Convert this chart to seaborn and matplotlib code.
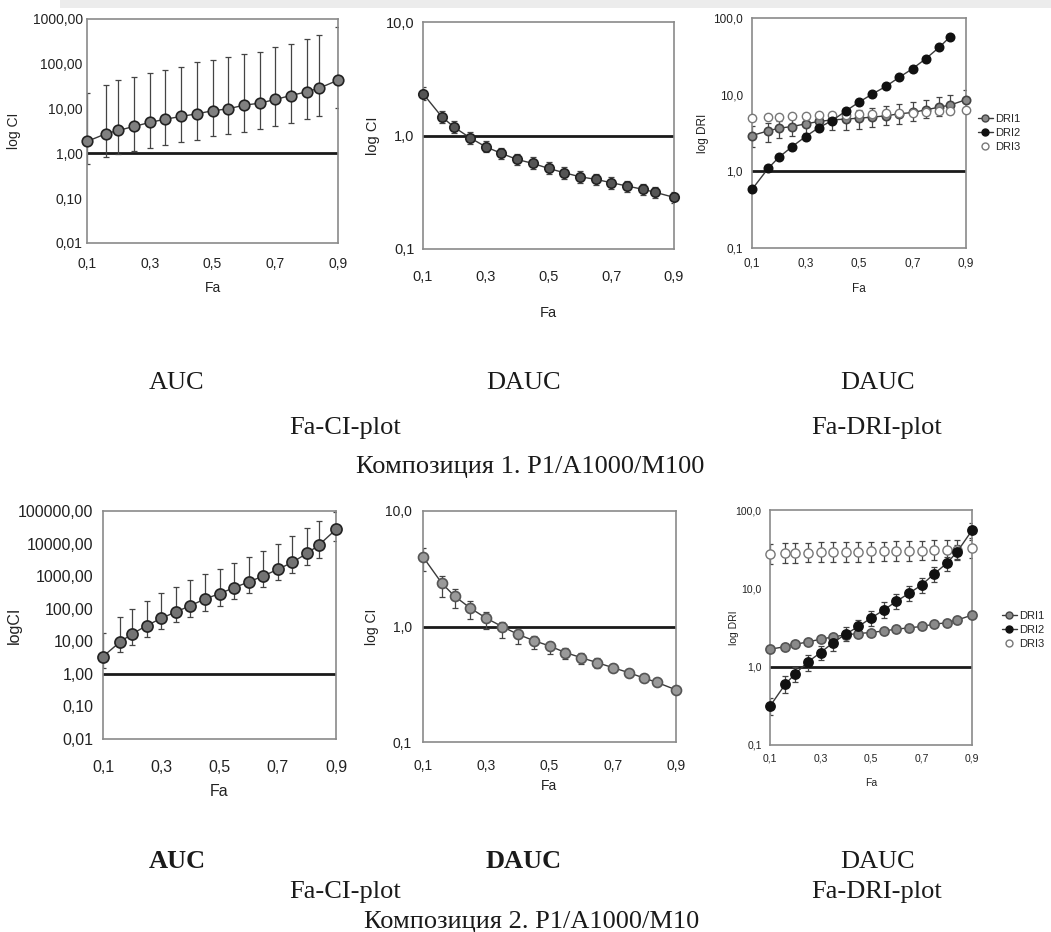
import numpy as np
import pandas as pd
import seaborn as sns
import matplotlib
matplotlib.use("Agg")
import matplotlib.pyplot as plt
from matplotlib.lines import Line2D
from matplotlib.patches import Rectangle

# ---------------- data ----------------
fa = [0.1, 0.16, 0.2, 0.25, 0.3, 0.35, 0.4, 0.45, 0.5, 0.55, 0.6, 0.65, 0.7, 0.75, 0.8, 0.84, 0.9]
x_ticks = [0.1, 0.3, 0.5, 0.7, 0.9]
x_ticklabels = ["0,1", "0,3", "0,5", "0,7", "0,9"]

# Composition 1, AUC, Fa-CI
ci1_auc = [1.85, 2.74, 3.26, 4.0, 4.91, 5.82, 6.68, 7.66, 8.93, 9.9, 11.9, 13.2, 16.0, 19.6, 23.7, 28.6, 43.1]
ci1_auc_hi = [22.1, 33.9, 42.4, 52, 63.9, 73.2, 86.9, 107, 122, 140, 164, 188, 234, 283, 353, 441, 654]
ci1_auc_lo = [0.578, 0.83, 0.97, 1.11, 1.32, 1.56, 1.79, 2.02, 2.39, 2.65, 3.04, 3.48, 4.0, 4.74, 5.93, 6.92, 10.1]

# Composition 1, DAUC, Fa-CI
ci1_dauc = [2.34, 1.46, 1.18, 0.954, 0.795, 0.695, 0.615, 0.568, 0.513, 0.470, 0.433, 0.411, 0.384, 0.359, 0.336, 0.316, 0.285]
ci1_dauc_hi = [2.7, 1.65, 1.33, 1.07, 0.89, 0.78, 0.69, 0.64, 0.58, 0.53, 0.49, 0.46, 0.43, 0.40, 0.375, 0.355, 0.32]
ci1_dauc_lo = [2.05, 1.29, 1.05, 0.85, 0.71, 0.62, 0.55, 0.505, 0.455, 0.415, 0.385, 0.365, 0.34, 0.32, 0.30, 0.28, 0.255]

# Composition 1, DAUC, Fa-DRI
dri1_c1 = [2.93, 3.37, 3.65, 3.84, 4.16, 4.47, 4.69, 4.80, 4.94, 5.09, 5.30, 5.62, 5.86, 6.34, 6.88, 7.3, 8.6]
dri1_c1_hi = [3.9, 4.3, 4.6, 4.8, 5.1, 5.5, 5.8, 6.1, 6.4, 6.7, 7.1, 7.5, 8.0, 8.6, 9.2, 9.8, 11.5]
dri1_c1_lo = [2.1, 2.4, 2.7, 2.9, 3.2, 3.4, 3.5, 3.5, 3.6, 3.8, 4.0, 4.2, 4.5, 5.0, 5.3, 5.6, 6.5]
dri2_c1 = [0.581, 1.09, 1.52, 2.10, 2.84, 3.72, 4.6, 6.1, 8.0, 10.2, 12.8, 16.8, 21.8, 29.5, 41.5, 56.6, np.nan]
dri3_c1 = [5.0, 5.1, 5.1, 5.2, 5.3, 5.35, 5.4, 5.5, 5.55, 5.6, 5.7, 5.75, 5.85, 5.95, 6.05, 6.1, 6.3]

# Composition 2, AUC, Fa-CI
ci2_auc = [3.40, 9.8, 16.8, 30.3, 50.9, 79.6, 124, 199, 290, 443, 661, 1009, 1617, 2650, 5000, 8790, 27200]
ci2_auc_hi = [17.6, 54.6, 98, 173, 297, 454, 762, 1136, 1656, 2470, 3950, 6040, 9670, 17000, 29200, 50200, 92000]
ci2_auc_lo = [1.49, 4.6, 7.7, 13.9, 23.4, 38.4, 57.3, 87.4, 124, 199, 297, 454, 762, 1220, 2250, 3680, 12200]

# Composition 2, DAUC, Fa-CI
ci2_dauc = [4.01, 2.36, 1.83, 1.44, 1.18, 1.0, 0.856, 0.755, 0.679, 0.595, 0.538, 0.487, 0.441, 0.399, 0.357, 0.328, 0.283]
ci2_dauc_hi = [4.8, 2.72, 2.13, 1.66, 1.34, 1.10, 0.94, 0.83, 0.74, 0.65, 0.59, 0.53, 0.47, 0.42, 0.375, 0.34, 0.29]
ci2_dauc_lo = [3.0, 1.81, 1.45, 1.15, 0.945, 0.80, 0.706, 0.64, 0.58, 0.52, 0.47, 0.44, 0.41, 0.38, 0.34, 0.315, 0.275]

# Composition 2, DAUC, Fa-DRI
dri1_c2 = [1.67, 1.80, 1.93, 2.07, 2.24, 2.40, 2.55, 2.65, 2.73, 2.86, 3.01, 3.13, 3.26, 3.49, 3.63, 3.93, 4.55]
dri2_c2 = [0.313, 0.594, 0.813, 1.15, 1.51, 2.03, 2.60, 3.26, 4.17, 5.27, 6.81, 8.62, 11.0, 15.3, 20.9, 28.9, 54.9]
dri2_c2_hi = [0.40, 0.75, 1.0, 1.42, 1.85, 2.5, 3.2, 4.0, 5.2, 6.6, 8.4, 10.6, 13.5, 18.5, 25, 36, 68]
dri2_c2_lo = [0.24, 0.46, 0.64, 0.88, 1.2, 1.6, 2.1, 2.6, 3.3, 4.2, 5.4, 6.8, 8.8, 12.0, 16.5, 23, 42]
dri3_c2 = [27.5, 28.1, 28.4, 28.4, 28.9, 28.9, 29.5, 29.5, 29.8, 29.8, 30.1, 30.4, 30.4, 30.7, 31.0, 31.0, 32.9]
dri3_c2_hi = [37, 37.5, 38, 38, 38.5, 38.5, 39, 39, 39.5, 39.5, 40, 40.5, 40.5, 41, 41.5, 41.5, 44]
dri3_c2_lo = [20.5, 21, 21, 21.5, 21.5, 21.5, 22, 22, 22, 22.5, 22.5, 22.5, 23, 23, 23, 23.5, 24.5]

dri_labels = ["DRI1", "DRI2", "DRI3"]

yt_ci1 = [0.01, 0.1, 1, 10, 100, 1000]
yl_ci1 = ["0,01", "0,10", "1,00", "10,00", "100,00", "1000,00"]
yt_ci2 = [0.01, 0.1, 1, 10, 100, 1000, 10000, 100000]
yl_ci2 = ["0,01", "0,10", "1,00", "10,00", "100,00", "1000,00", "10000,00", "100000,00"]
yt_d = [0.1, 1, 10]
yl_d = ["0,1", "1,0", "10,0"]
yt_dri = [0.1, 1, 10, 100]
yl_dri = ["0,1", "1,0", "10,0", "100,0"]

# ---------------- style ----------------
sns.set_theme(style="white")
plt.rcParams["font.family"] = ["Liberation Sans", "DejaVu Sans"]
plt.rcParams["axes.edgecolor"] = "#8a8a8a"

W, H = 1051, 932
fig = plt.figure(figsize=(W / 100, H / 100), dpi=100)
fig.patches.append(Rectangle((60 / W, 1 - 8 / H), 1, 8 / H, transform=fig.transFigure,
                             facecolor="#ececec", edgecolor="none", zorder=0))

LINE_C = "#3a3a3a"


def make_ax(l, t, r, b):
    return fig.add_axes([l / W, 1 - b / H, (r - l) / W, (b - t) / H])


def setup(ax, ylim, yt, yl, ylab, fs, xpad, ypad, ylab_x, xlab_y, lab_fs):
    ax.set_yscale("log")
    ax.set_xlim(0.1, 0.9)
    ax.set_ylim(*ylim)
    ax.set_xticks(x_ticks)
    ax.set_xticklabels(x_ticklabels)
    ax.set_yticks(yt)
    ax.set_yticklabels(yl)
    ax.yaxis.set_minor_locator(matplotlib.ticker.NullLocator())
    ax.tick_params(axis="x", length=0, pad=xpad, labelsize=fs, colors="#222222")
    ax.tick_params(axis="y", length=0, pad=ypad, labelsize=fs, colors="#222222")
    for s in ax.spines.values():
        s.set_color("#8a8a8a")
        s.set_linewidth(1.2)
    ax.axhline(1.0, color="#1a1a1a", lw=2.0, zorder=1.5)
    ax.set_ylabel(ylab, fontsize=lab_fs, color="#222222")
    ax.set_xlabel("Fa", fontsize=lab_fs, color="#222222")
    ax.yaxis.set_label_coords(ylab_x, 0.5)
    ax.yaxis.label.set_va("center")
    ax.xaxis.set_label_coords(0.5, xlab_y)
    ax.xaxis.label.set_va("center")


def series(ax, y, face, edge, ms, lo=None, hi=None, line=True):
    yv = np.array(y, dtype=float)
    if lo is not None:
        ax.errorbar(fa, yv, yerr=[yv - np.array(lo), np.array(hi) - yv], fmt="none",
                    ecolor="#444444", elinewidth=0.9, capsize=2, capthick=0.9, zorder=2)
    df = pd.DataFrame({"Fa": fa, "v": yv})
    if line:
        sns.lineplot(data=df, x="Fa", y="v", ax=ax, color=LINE_C, lw=1.0, marker="o",
                     markersize=ms, markerfacecolor=face, markeredgecolor=edge,
                     markeredgewidth=1.2, estimator=None, sort=False, legend=False,
                     zorder=3, clip_on=False)
    else:
        sns.scatterplot(data=df, x="Fa", y="v", ax=ax, color=face, edgecolor=edge,
                        s=ms ** 2, linewidth=1.0, legend=False, zorder=3, clip_on=False)
    ax.set_xlabel("Fa")
    ax.set_ylabel("")


# ---- Panel 1: comp 1, AUC ----
ax1 = make_ax(87, 19, 338, 243)
series(ax1, ci1_auc, "#808080", "#222222", 7.6, ci1_auc_lo, ci1_auc_hi)
setup(ax1, (0.01, 1000), yt_ci1, yl_ci1, "log CI", 10, 10, 3, -0.29, -0.2, 10)

# ---- Panel 2: comp 1, DAUC ----
ax2 = make_ax(423, 22, 674, 249)
series(ax2, ci1_dauc, "#555555", "#222222", 6.8, ci1_dauc_lo, ci1_dauc_hi)
setup(ax2, (0.1, 10), yt_d, yl_d, "log CI", 10.5, 15, 6, -0.2, -0.28, 10.5)

# ---- Panel 3: comp 1, DRI ----
ax3 = make_ax(752, 18, 966, 248)
series(ax3, dri1_c1, "#8a8a8a", "#444444", 6.0, dri1_c1_lo, dri1_c1_hi)
series(ax3, dri3_c1, "white", "#777777", 6.0, line=False)
series(ax3, dri2_c1, "#111111", "#111111", 6.0)
setup(ax3, (0.1, 100), yt_dri, yl_dri, "log DRI", 8.5, 7, 6.5, -0.23, -0.18, 8.5)

# ---- Panel 4: comp 2, AUC ----
ax4 = make_ax(103, 511, 336, 739)
series(ax4, ci2_auc, "#737373", "#222222", 8.0, ci2_auc_lo, ci2_auc_hi)
setup(ax4, (0.01, 100000), yt_ci2, yl_ci2, "logCI", 11.5, 15, 7, -0.38, -0.23, 11.5)

# ---- Panel 5: comp 2, DAUC ----
ax5 = make_ax(423, 511, 676, 742)
series(ax5, ci2_dauc, "#9a9a9a", "#555555", 7.2, ci2_dauc_lo, ci2_dauc_hi)
setup(ax5, (0.1, 10), yt_d, yl_d, "log CI", 10, 12, 8, -0.2, -0.19, 10)

# ---- Panel 6: comp 2, DRI ----
ax6 = make_ax(770, 510, 972, 745)
series(ax6, dri1_c2, "#8a8a8a", "#555555", 6.6)
series(ax6, dri3_c2, "white", "#777777", 6.6, dri3_c2_lo, dri3_c2_hi, line=False)
series(ax6, dri2_c2, "#111111", "#111111", 6.6, dri2_c2_lo, dri2_c2_hi)
setup(ax6, (0.1, 100), yt_dri, yl_dri, "log DRI", 7.5, 6, 6, -0.18, -0.16, 7.5)


def legend_handles():
    return [
        Line2D([], [], color=LINE_C, lw=1, marker="o", ms=5, mfc="#8a8a8a", mec="#444444"),
        Line2D([], [], color=LINE_C, lw=1, marker="o", ms=5, mfc="#111111", mec="#111111"),
        Line2D([], [], color=LINE_C, lw=0, marker="o", ms=5, mfc="white", mec="#777777"),
    ]


fig.legend(legend_handles(), dri_labels, loc="center left", bbox_to_anchor=(972 / W, 1 - 133 / H),
           bbox_transform=fig.transFigure, frameon=False, fontsize=8, handlelength=1.4,
           handletextpad=0.2, labelspacing=0.35, borderpad=0)
fig.legend(legend_handles(), dri_labels, loc="center left", bbox_to_anchor=(996 / W, 1 - 630 / H),
           bbox_transform=fig.transFigure, frameon=False, fontsize=8, handlelength=1.4,
           handletextpad=0.2, labelspacing=0.35, borderpad=0)

# ---------------- captions ----------------
SERIF = ["Liberation Serif", "DejaVu Serif"]


def cap(x, y, s, bold=False, fs=19):
    fig.text(x / W, 1 - y / H, s, ha="center", va="center", family=SERIF, fontsize=fs,
             fontweight="bold" if bold else "normal", color="#1a1a1a")


cap(177, 383, "AUC")
cap(524, 383, "DAUC")
cap(878, 383, "DAUC")
cap(345, 428, "Fa-CI-plot")
cap(877, 428, "Fa-DRI-plot")
cap(530, 467, "Композиция 1. P1/A1000/M100")

cap(177, 862, "AUC", bold=True)
cap(524, 862, "DAUC", bold=True)
cap(878, 862, "DAUC")
cap(345, 892, "Fa-CI-plot")
cap(877, 892, "Fa-DRI-plot")
cap(532, 922, "Композиция 2. P1/A1000/M10")

fig.savefig("out.png", dpi=100)
